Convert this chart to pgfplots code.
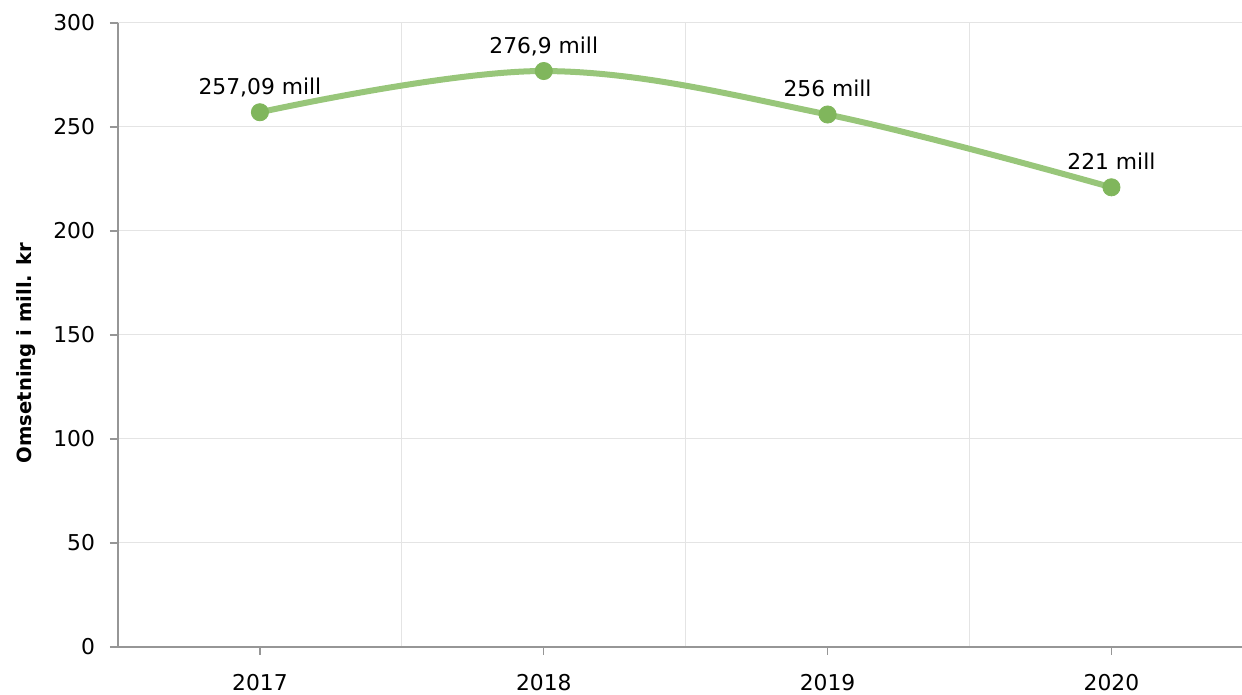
\documentclass[border=0pt]{standalone}
\usepackage{fontspec}
\setmainfont{DejaVu Sans}
\usepackage{pgfplots}
\pgfplotsset{compat=1.18}
\definecolor{linegreen}{RGB}{152,198,122}
\definecolor{markgreen}{RGB}{128,182,92}
\definecolor{gridgray}{RGB}{228,228,228}
\definecolor{axisgray}{RGB}{150,150,150}
\begin{document}
\begin{tikzpicture}
\path[use as bounding box] (-59pt,-24pt) rectangle (562pt,323.5pt);
\begin{axis}[
  at={(0,0)}, anchor=south west,
  scale only axis, width=562pt, height=312pt,
  xmin=-0.5, xmax=3.46, ymin=0, ymax=300,
  ytick={0,50,100,150,200,250,300},
  xtick={0,1,2,3}, xticklabels={2017,2018,2019,2020},
  minor xtick={0.5,1.5,2.5},
  xminorgrids=true, ymajorgrids=true,
  grid style={gridgray, line width=0.5pt},
  minor grid style={gridgray, line width=0.5pt},
  axis lines*=left,
  axis line style={axisgray, line width=0.6pt},
  tick align=outside, major tick length=4pt, minor tick length=0pt,
  tick style={axisgray, line width=0.6pt},
  tick label style={font=\fontsize{10.9}{13}\selectfont, text=black},
  xticklabel style={yshift=-6pt},
  yticklabel style={xshift=-4pt},
  /pgf/number format/assume math mode=true,
  every axis y label/.style={at={(axis description cs:-0.0819,0.471)}, rotate=90, anchor=center, font=\fontsize{9.8}{12}\selectfont\bfseries},
  ylabel={Omsetning i mill. kr},
  clip=false,
]
\addplot[linegreen, line width=3pt, smooth, tension=0.6] coordinates {
  (0,257.09) (1,276.9) (2,256) (3,221)
};
\addplot[only marks, mark=*, mark size=4.3pt, markgreen, mark options={draw=markgreen, fill=markgreen},
  point meta=explicit symbolic,
  nodes near coords,
  nodes near coords style={anchor=base, yshift=9pt, inner sep=0pt, font=\fontsize{10.9}{13}\selectfont, text=black}
] coordinates {
  (0,257.09) [257,09 mill]
  (1,276.9) [276,9 mill]
  (2,256) [256 mill]
  (3,221) [221 mill]
};
\end{axis}
\end{tikzpicture}
\end{document}
